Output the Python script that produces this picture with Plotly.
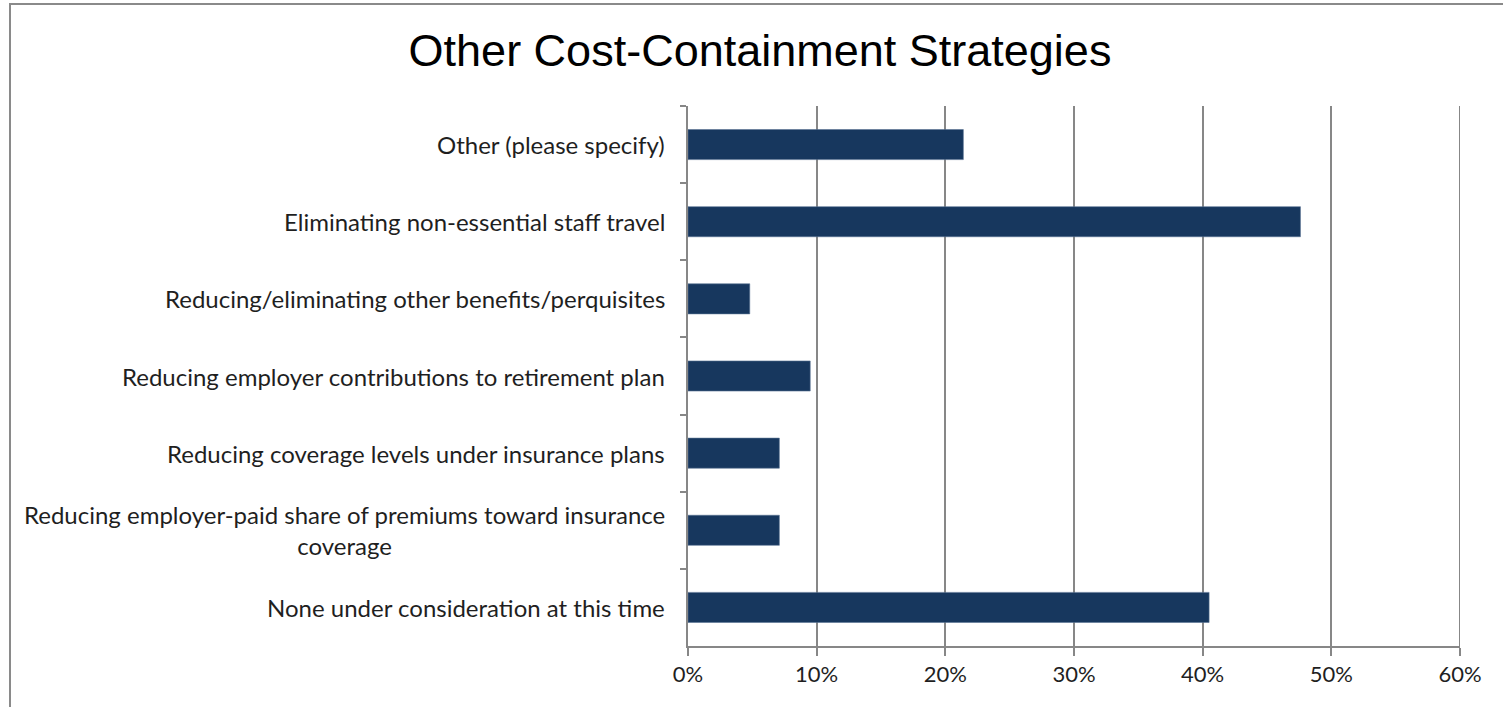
import plotly.graph_objects as go

# Survey responses: share of respondents choosing each strategy
categories = [
    "Other (please specify)",
    "Eliminating non-essential staff travel",
    "Reducing/eliminating other benefits/perquisites",
    "Reducing employer contributions to retirement plan",
    "Reducing coverage levels under insurance plans",
    "Reducing employer-paid share of premiums toward insurance<br>coverage",
    "None under consideration at this time",
]
shares = [0.214, 0.476, 0.048, 0.095, 0.071, 0.071, 0.405]
x_ticks = [0, 0.1, 0.2, 0.3, 0.4, 0.5, 0.6]
x_tick_text = ["0%", "10%", "20%", "30%", "40%", "50%", "60%"]

W, H = 1503, 707
L, R, T, B = 688, 43, 106, 61
plot_w = W - L - R
plot_h = H - T - B

BAR = "#17375E"
GRID = "#878787"
TEXT = "#1f1f1f"
LABEL_FONT = "Lato"

fig = go.Figure(
    go.Bar(
        x=shares,
        y=categories,
        orientation="h",
        width=0.39,
        marker=dict(color=BAR, line=dict(color="#5a7394", width=0.6)),
        hoverinfo="x+y",
    )
)

# Category labels as annotations so the wrapped label can be centred
for cat in categories:
    fig.add_annotation(
        x=0, xref="paper", y=cat, yref="y",
        text=cat, showarrow=False,
        xanchor="right", yanchor="middle", align="center",
        xshift=-21,
        font=dict(family=LABEL_FONT, size=24, color=TEXT),
    )

# Chart-area frame
def px_x(p):
    return (p - L) / plot_w

def px_y(p):
    return (H - B - p) / plot_h

fig.add_shape(
    type="rect", xref="paper", yref="paper",
    x0=px_x(10), x1=px_x(1515), y0=px_y(720), y1=px_y(4),
    line=dict(color="#8a8a8a", width=2), fillcolor="rgba(0,0,0,0)",
    layer="below",
)

# Gridline at the right end of the value axis
fig.add_shape(
    type="line", xref="x", yref="paper",
    x0=0.6, x1=0.6, y0=0, y1=1,
    line=dict(color=GRID, width=2), layer="below",
)

fig.update_layout(
    width=W, height=H,
    margin=dict(l=L, r=R, t=T, b=B, pad=0),
    paper_bgcolor="white", plot_bgcolor="white",
    showlegend=False,
    bargap=0.61,
    title=dict(
        text="Other Cost-Containment Strategies",
        x=(403 + 1117) / 2 / W, xanchor="center",
        y=1 - 50 / H, yanchor="middle",
        font=dict(family="Liberation Sans", size=45, color="#000000"),
    ),
    xaxis=dict(
        range=[0, 0.6],
        tickvals=x_ticks, ticktext=x_tick_text,
        showgrid=True, gridcolor=GRID, gridwidth=2,
        showline=True, linecolor=GRID, linewidth=2,
        ticks="outside", ticklen=8, tickwidth=2, tickcolor=GRID,
        tickfont=dict(family=LABEL_FONT, size=22, color=TEXT),
        zeroline=False,
    ),
    yaxis=dict(
        categoryorder="array", categoryarray=categories,
        autorange="reversed",
        showticklabels=False,
        tickson="boundaries",
        ticks="outside", ticklen=6, tickwidth=2, tickcolor=GRID,
        showline=True, linecolor=GRID, linewidth=2,
        showgrid=False, zeroline=False,
    ),
)

fig.write_html("out.html")
